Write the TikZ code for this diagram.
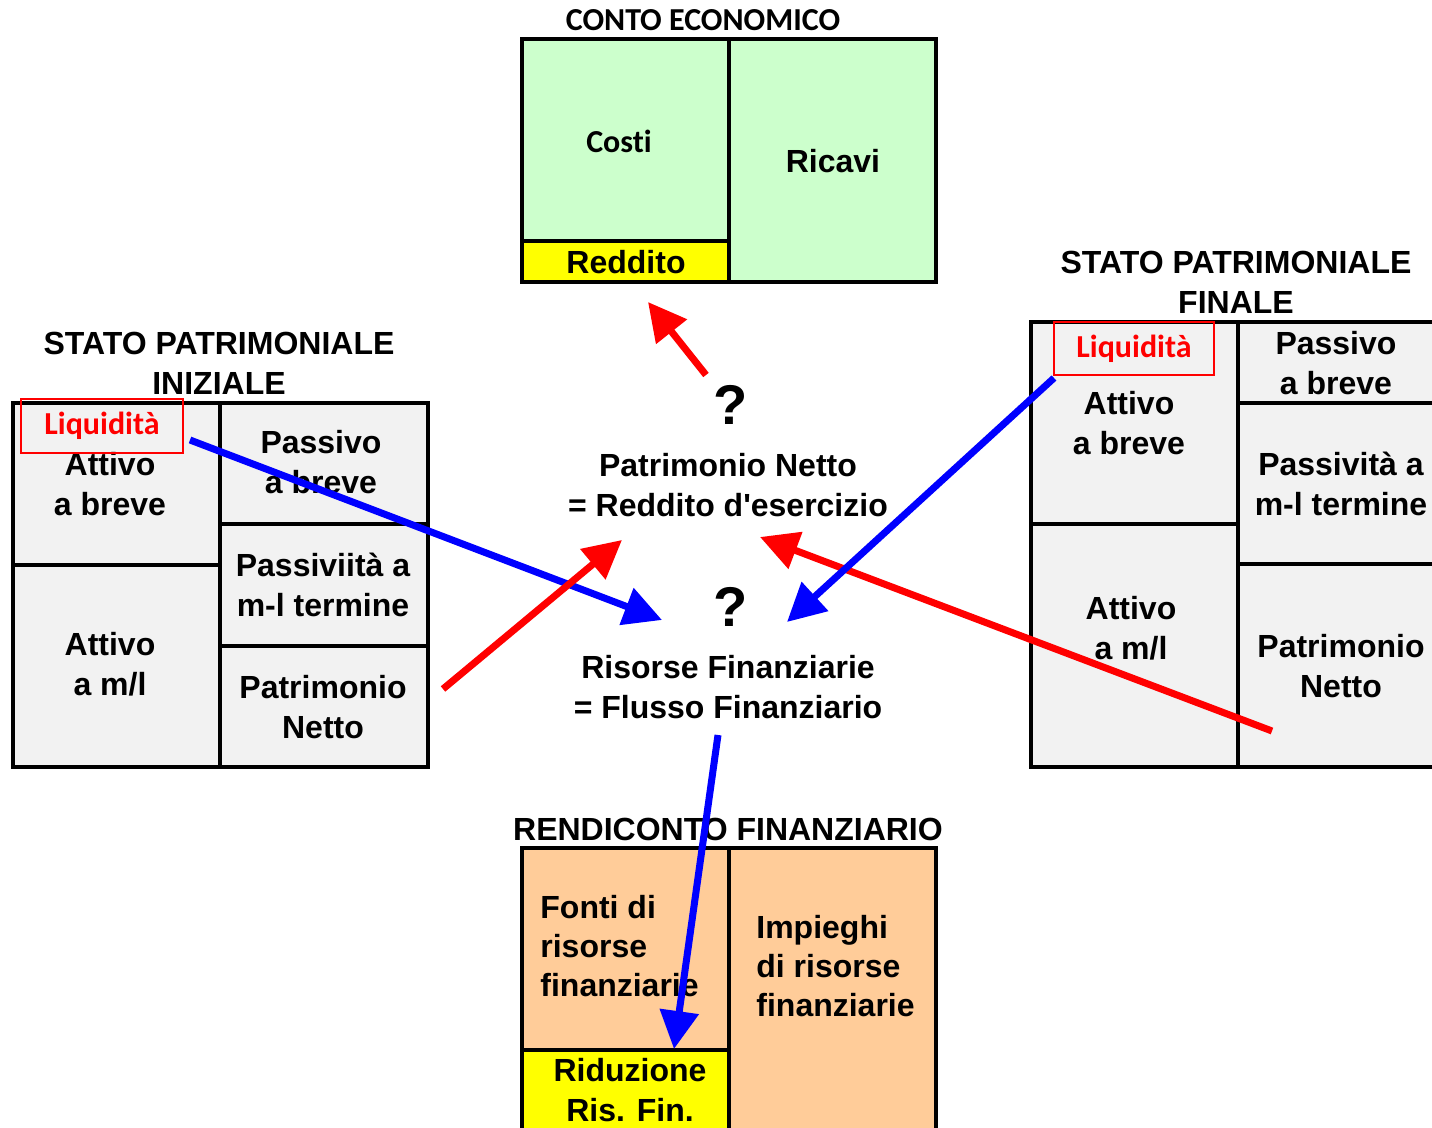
\documentclass[tikz,border=0pt]{standalone}
\usepackage{fontspec}
\setmainfont{Liberation Sans}
\newfontfamily\calfont[Ligatures=NoCommon]{Carlito}
\usetikzlibrary{arrows.meta}
\definecolor{cellgray}{HTML}{F2F2F2}
\definecolor{cegreen}{HTML}{CCFFCC}
\definecolor{rforange}{HTML}{FFCC99}
\definecolor{hiyellow}{HTML}{FFFF00}
\definecolor{flowred}{HTML}{FF0000}
\definecolor{flowblue}{HTML}{0000FF}
\begin{document}
\begin{tikzpicture}[x=0.5pt,y=-0.5pt,
  cell/.style={draw=black, line width=2pt},
  lbl/.style={font=\fontsize{16}{20}\selectfont\bfseries, align=center, inner sep=0pt},
  lbll/.style={font=\fontsize{16}{19.5}\selectfont\bfseries, align=left, inner sep=0pt, anchor=west},
  callbl/.style={font=\calfont\fontsize{16}{20}\selectfont\bfseries, inner sep=0pt},
  qmark/.style={font=\fontsize{28}{30}\selectfont\bfseries, inner sep=0pt},
  liq/.style={draw=flowred, line width=1.2pt, text=flowred, inner sep=0pt,
    font=\calfont\fontsize{16}{20}\selectfont\bfseries},
  flow/.style={line width=3.5pt, -{Triangle[length=19pt,width=19pt]}}]
\useasboundingbox (0,0) rectangle (1432,1128);
\clip (0,0) rectangle (1432,1128);

% ---------- Stato patrimoniale iniziale ----------
\node[lbl] (tSPI) at (219,363) {STATO PATRIMONIALE\\INIZIALE};
\filldraw[cell, fill=cellgray] (13,403) rectangle (220,565);
\filldraw[cell, fill=cellgray] (13,565) rectangle (220,767);
\filldraw[cell, fill=cellgray] (220,403) rectangle (428,524);
\filldraw[cell, fill=cellgray] (220,524) rectangle (428,646);
\filldraw[cell, fill=cellgray] (220,646) rectangle (428,767);
\node[lbl] (iAB) at (110,484) {Attivo\\a breve};
\node[lbl] (iAML) at (110,664) {Attivo\\a m/l};
\node[lbl] (iPB) at (321,462) {Passivo\\a breve};
\node[lbl] (iPML) at (323,585) {Passiviità a\\m-l termine};
\node[lbl] (iPN) at (323,707) {Patrimonio\\Netto};
\node[liq, minimum width=81pt, minimum height=27pt] (liqI) at (102,426) {Liquidità};

% ---------- Stato patrimoniale finale ----------
\node[lbl] (tSPF) at (1236,282) {STATO PATRIMONIALE\\FINALE};
\filldraw[cell, fill=cellgray] (1031,322) rectangle (1238,524);
\filldraw[cell, fill=cellgray] (1031,524) rectangle (1238,767);
\filldraw[cell, fill=cellgray] (1238,322) rectangle (1445,403);
\filldraw[cell, fill=cellgray] (1238,403) rectangle (1445,564);
\filldraw[cell, fill=cellgray] (1238,564) rectangle (1445,767);
\node[lbl] (fAB) at (1129,423) {Attivo\\a breve};
\node[lbl] (fAML) at (1131,628) {Attivo\\a m/l};
\node[lbl] (fPB) at (1336,363) {Passivo\\a breve};
\node[lbl] (fPML) at (1341,484) {Passività a\\m-l termine};
\node[lbl] (fPN) at (1341,666) {Patrimonio\\Netto};
\node[liq, minimum width=80pt, minimum height=26.5pt] (liqF) at (1134,348.5) {Liquidità};

% ---------- Conto economico ----------
\node[callbl] (tCE) at (703,20) {CONTO ECONOMICO};
\filldraw[cell, fill=cegreen] (522,39) rectangle (729,241);
\filldraw[cell, fill=hiyellow] (522,241) rectangle (729,282);
\filldraw[cell, fill=cegreen] (729,39) rectangle (936,282);
\node[callbl] (costi) at (619,141) {Costi};
\node[lbl] (ricavi) at (833,161) {Ricavi};
\node[lbl] (reddito) at (626,262) {Reddito};

% ---------- Rendiconto finanziario ----------
\node[lbl] (tRF) at (728,829) {RENDICONTO FINANZIARIO};
\filldraw[cell, fill=rforange] (522,848) rectangle (729,1050);
\filldraw[cell, fill=hiyellow] (522,1050) rectangle (729,1140);
\filldraw[cell, fill=rforange] (729,848) rectangle (936,1140);
\node[lbll] (fonti) at (540,946) {Fonti di\\risorse\\finanziarie};
\node[lbll] (impieghi) at (756,966) {Impieghi\\di risorse\\finanziarie};
\node[lbl] (riduz) at (630,1090) {Riduzione\\Ris. Fin.};

% ---------- Centre ----------
\node[qmark] (q1) at (731,405) {?};
\node[lbl] (pn) at (728,485) {Patrimonio Netto\\= Reddito d\textquotesingle esercizio};
\node[qmark] (q2) at (731,607) {?};
\node[lbl] (rf) at (728,687) {Risorse Finanziarie\\= Flusso Finanziario};

% ---------- Flows ----------
\coordinate (r1s) at (706,375);  \coordinate (r1e) at (648,302);
\coordinate (b1s) at (190,440);  \coordinate (b1e) at (662,620);
\coordinate (r2s) at (443,689);  \coordinate (r2e) at (622,540);
\coordinate (b2s) at (1054,378); \coordinate (b2e) at (787,622);
\coordinate (r3s) at (1272,731); \coordinate (r3e) at (760,537);
\coordinate (b3s) at (718,735);  \coordinate (b3e) at (674,1049);

\draw[flow, flowblue] (b1s) -- (b1e);
\draw[flow, flowred] (r2s) -- (r2e);
\draw[flow, flowred] (r1s) -- (r1e);
\draw[flow, flowred] (r3s) -- (r3e);
\draw[flow, flowblue] (b2s) -- (b2e);
\draw[flow, flowblue] (b3s) -- (b3e);
\end{tikzpicture}
\end{document}
